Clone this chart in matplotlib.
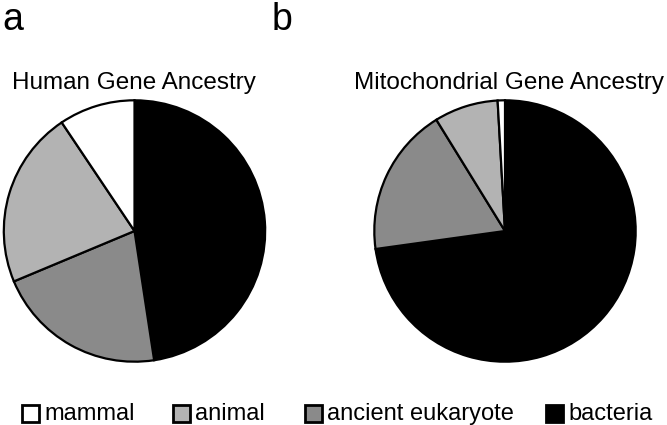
import matplotlib
matplotlib.use("Agg")
import matplotlib.pyplot as plt
from matplotlib.patches import Rectangle

plt.rcParams['font.family'] = ['Liberation Sans', 'DejaVu Sans']

labels = ['bacteria', 'ancient eukaryote', 'animal', 'mammal']
colors = ['#000000', '#8a8a8a', '#b3b3b3', '#ffffff']
human = [47.6, 21.1, 21.9, 9.4]
mito = [72.8, 18.4, 7.9, 0.9]

W, H = 667, 425
fig = plt.figure(figsize=(W / 100, H / 100), dpi=100)


def pie_at(cx, cy, r, values):
    ax = fig.add_axes([(cx - r) / W, 1 - (cy + r) / H, 2 * r / W, 2 * r / H])
    ax.pie(values, colors=colors, startangle=90, counterclock=False,
           wedgeprops=dict(edgecolor='black', linewidth=1.6))
    ax.set_xlim(-1.01, 1.01)
    ax.set_ylim(-1.01, 1.01)
    ax.axis('off')
    return ax


pie_at(134.5, 231, 132, human)
pie_at(505, 231, 132, mito)

# panel letters and titles
fig.text(2 / W, 1 - 30 / H, 'a', fontsize=27, va='baseline')
fig.text(272 / W, 1 - 30 / H, 'b', fontsize=27, va='baseline')
fig.text(12 / W, 1 - 89 / H, 'Human Gene Ancestry', fontsize=17.5, va='baseline')
fig.text(354 / W, 1 - 89 / H, 'Mitochondrial Gene Ancestry', fontsize=17.5, va='baseline')

# legend
leg_order = ['mammal', 'animal', 'ancient eukaryote', 'bacteria']
leg_x = [22, 173, 305, 546]
for name, x in zip(leg_order, leg_x):
    c = colors[labels.index(name)]
    fig.patches.append(Rectangle((x / W, 1 - 422 / H), 17 / W, 17 / H,
                                 facecolor=c, edgecolor='black', linewidth=2,
                                 transform=fig.transFigure, figure=fig))
    fig.text((x + 22) / W, 1 - 414 / H, name, fontsize=17, va='center')

fig.savefig('out.png', dpi=100)
